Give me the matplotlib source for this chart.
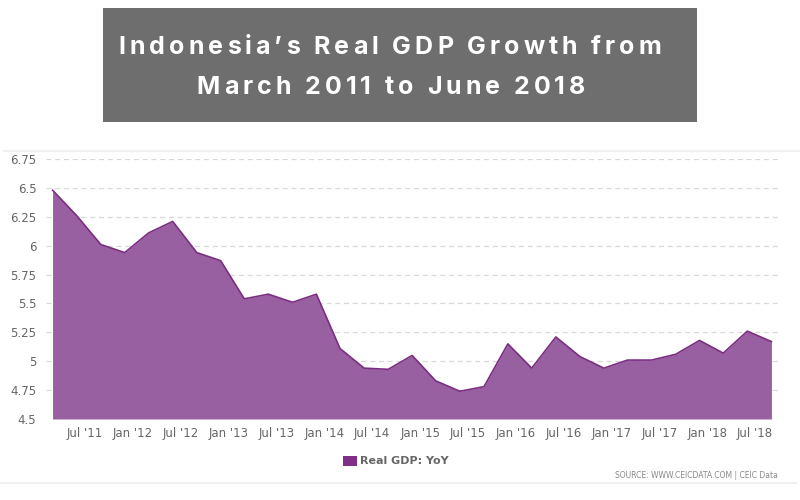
import matplotlib
matplotlib.use('Agg')
import matplotlib.pyplot as plt
import matplotlib.dates as mdates
from matplotlib.patches import Rectangle
from matplotlib.font_manager import FontProperties
import numpy as np
import pandas as pd

# quarterly data, CEIC marks each quarter on the 1st of its last month
dates = pd.date_range('2011-03-01', '2018-09-01', freq='3MS')
gdp_yoy = [6.48, 6.26, 6.01, 5.94, 6.11, 6.21, 5.94, 5.87,
           5.54, 5.58, 5.51, 5.58, 5.11, 4.94, 4.93, 5.05,
           4.83, 4.74, 4.78, 5.15, 4.94, 5.21, 5.04, 4.94,
           5.01, 5.01, 5.06, 5.18, 5.07, 5.26, 5.17]

yticks = [4.5, 4.75, 5, 5.25, 5.5, 5.75, 6, 6.25, 6.5, 6.75]
ytick_labels = ['4.5', '4.75', '5', '5.25', '5.5', '5.75', '6', '6.25', '6.5', '6.75']

title_lines = ["Indonesia\u2019s Real GDP Growth from", "March 2011 to June 2018"]
legend_label = 'Real GDP: YoY'
source_text = 'SOURCE: WWW.CEICDATA.COM | CEIC Data'

fill_col = '#9860a0'
line_col = '#7b2d82'
txt_col = '#666666'

W, H = 800, 500
fig = plt.figure(figsize=(8, 5), dpi=100)
fig.patch.set_facecolor('white')


def spaced_text(s, xc, ybase, prop, track):
    # no letter-spacing in matplotlib, so lay the letters out one by one
    r = fig.canvas.get_renderer()
    base = r.get_text_width_height_descent('xx', prop, ismath=False)[0]
    widths = [r.get_text_width_height_descent('x' + c + 'x', prop, ismath=False)[0] - base
              for c in s]
    total = sum(widths) + track * (len(s) - 1)
    xp = xc - total / 2
    for c, w in zip(s, widths):
        if c != ' ':
            fig.text(xp / W, 1 - ybase / H, c, color='white', fontproperties=prop,
                     ha='left', va='baseline')
        xp += w + track


# title box
fig.patches.append(Rectangle((103/W, 1-122/H), 594/W, 114/H,
                             transform=fig.transFigure, facecolor='#6e6e6e',
                             edgecolor='none'))
tprop = FontProperties(family='Inter', weight='bold', size=18)
spaced_text(title_lines[0], 390, 54.5, tprop, 4.0)
spaced_text(title_lines[1], 391, 93.5, tprop, 4.0)

# faint separator lines
fig.add_artist(plt.Line2D([0.005, 1.0], [1-151/H, 1-151/H], color='#f0f0f0',
                          lw=1.5, transform=fig.transFigure))
fig.add_artist(plt.Line2D([0.0, 0.995], [1-483/H, 1-483/H], color='#f0f0f0',
                          lw=1.5, transform=fig.transFigure))

ax = fig.add_axes([46/W, 1-419/H, (778-46)/W, (419-159)/H])
x = mdates.date2num(dates)
ax.fill_between(x, gdp_yoy, 4.5, color=fill_col, lw=0, zorder=2)
ax.plot(x, gdp_yoy, color=line_col, lw=1.2, zorder=3)

pad = 25
ax.set_xlim(x[0] - pad, x[-1] + pad)
ax.set_ylim(4.5, 6.75)
ax.set_yticks(yticks)
ax.set_yticklabels(ytick_labels)
ax.grid(axis='y', color='#d8d8d8', ls=(0, (4, 3)), lw=0.9, zorder=1)
ax.xaxis.set_major_locator(mdates.MonthLocator(bymonth=[1, 7]))
ax.xaxis.set_major_formatter(mdates.DateFormatter("%b '%y"))
ax.tick_params(axis='both', length=0, labelsize=8.5, labelcolor=txt_col)
ax.tick_params(axis='y', pad=7)
ax.tick_params(axis='x', pad=6)
for s in ax.spines.values():
    s.set_visible(False)
for lbl in ax.get_xticklabels() + ax.get_yticklabels():
    lbl.set_family('DejaVu Sans')

# legend
fig.patches.append(Rectangle((343/W, 1-466/H), 14/W, 10/H,
                             transform=fig.transFigure, facecolor='#7f2f87',
                             edgecolor='none'))
fig.text(360/W, 1-461/H, legend_label, color=txt_col, fontsize=8,
         fontweight='bold', family='DejaVu Sans', va='center', ha='left')
fig.text(778/W, 1-476/H, source_text, color='#888888', fontsize=5.5,
         family='DejaVu Sans', va='center', ha='right')

fig.savefig('out.png', dpi=100)
